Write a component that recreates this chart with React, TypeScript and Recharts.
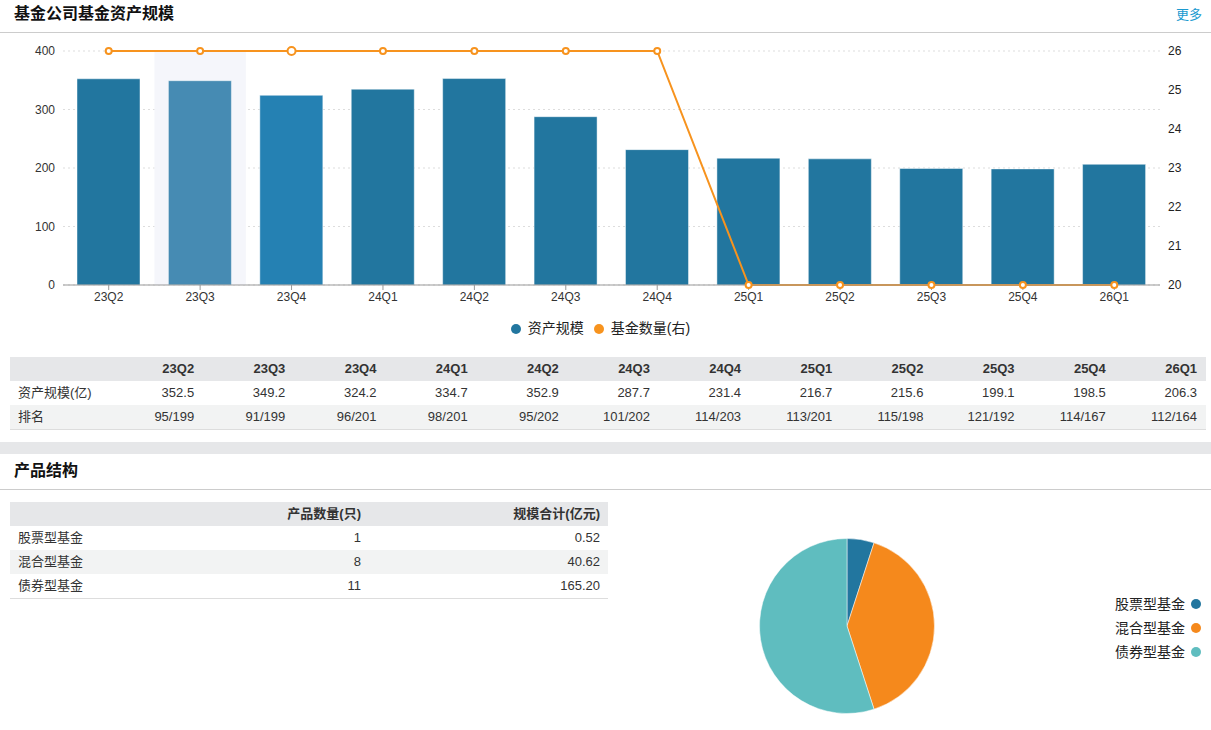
import React from "react";
import {
  ComposedChart,
  Bar,
  Line,
  XAxis,
  YAxis,
  CartesianGrid,
  Legend,
  ReferenceArea,
  Cell,
  PieChart,
  Pie,
} from "recharts";

const QUARTERS = ["23Q2", "23Q3", "23Q4", "24Q1", "24Q2", "24Q3", "24Q4", "25Q1", "25Q2", "25Q3", "25Q4", "26Q1"];
const ASSET_SCALE = [352.5, 349.2, 324.2, 334.7, 352.9, 287.7, 231.4, 216.7, 215.6, 199.1, 198.5, 206.3];
const FUND_COUNT = [26, 26, 26, 26, 26, 26, 26, 20, 20, 20, 20, 20];
const RANKS = ["95/199", "91/199", "96/201", "98/201", "95/202", "101/202", "114/203", "113/201", "115/198", "121/192", "114/167", "112/164"];
const LEFT_TICKS = [0, 100, 200, 300, 400];
const RIGHT_TICKS = [20, 21, 22, 23, 24, 25, 26];

const FUND_TYPES = ["股票型基金", "混合型基金", "债券型基金"];
const TYPE_COUNTS = [1, 8, 11];
const TYPE_SCALES = [0.52, 40.62, 165.2];

const BLUE = "#22769f";
const ORANGE = "#f7931e";
const PIE_COLORS = ["#22769f", "#f5891c", "#5fbdbf"];
const FONT = "Arial, 'Liberation Sans', 'Noto Sans CJK SC', sans-serif";

const chartData = QUARTERS.map((q, i) => ({ q, scale: ASSET_SCALE[i], count: FUND_COUNT[i] }));
const pieData = FUND_TYPES.map((name, i) => ({ name, value: TYPE_COUNTS[i] }));

// hovered bar and its neighbour look lighter in the screenshot
const barFill = (i: number) => (i === 1 ? "#468bb3" : i === 2 ? "#2581b3" : BLUE);

const LineDot = (props: any) => {
  const { cx, cy, index } = props;
  return (
    <circle
      key={`dot-${index}`}
      cx={cx}
      cy={cy}
      r={index === 2 ? 4 : 3}
      fill="#fff"
      stroke={ORANGE}
      strokeWidth={2}
    />
  );
};

const PieLegend = () => (
  <div style={{ textAlign: "right", fontSize: 14, color: "#222", fontFamily: FONT }}>
    {FUND_TYPES.map((name, i) => (
      <div key={name} style={{ height: 24, lineHeight: "24px", whiteSpace: "nowrap" }}>
        {name}
        <span
          style={{
            display: "inline-block",
            width: 10,
            height: 10,
            borderRadius: 5,
            background: PIE_COLORS[i],
            marginLeft: 6,
          }}
        />
      </div>
    ))}
  </div>
);

const th: React.CSSProperties = { textAlign: "right", padding: "0 9px", fontWeight: "bold", height: 24, lineHeight: "24px" };
const td: React.CSSProperties = { textAlign: "right", padding: "0 9px", height: 24, lineHeight: "22px" };

export default function App() {
  return (
    <div
      style={{
        position: "absolute",
        left: 0,
        top: 0,
        width: 1211,
        height: 730,
        background: "#fff",
        fontFamily: FONT,
        color: "#333",
        overflow: "hidden",
      }}
    >
      <div style={{ position: "absolute", left: 14, top: 4, fontSize: 16, fontWeight: "bold", color: "#111", lineHeight: "20px" }}>
        基金公司基金资产规模
      </div>
      <div style={{ position: "absolute", right: 9, top: 6, fontSize: 13, color: "#1b9ad0", lineHeight: "18px" }}>更多</div>
      <div style={{ position: "absolute", left: 0, top: 32, width: 1211, height: 1, background: "#ccc" }} />

      <div style={{ position: "absolute", left: 0, top: 33 }}>
        <ComposedChart width={1211} height={308} data={chartData} margin={{ top: 18, right: 0, bottom: 4, left: 0 }}>
          <CartesianGrid yAxisId="left" vertical={false} stroke="#ddd" strokeDasharray="2 3" />
          <ReferenceArea yAxisId="left" x1="23Q3" x2="23Q3" fill="#f5f6fb" fillOpacity={1} stroke="none" />
          <XAxis
            dataKey="q"
            tick={{ fontSize: 12, fill: "#333" }}
            axisLine={{ stroke: "#999" }}
            tickLine={{ stroke: "#999" }}
            tickSize={5}
            height={32}
          />
          <YAxis
            yAxisId="left"
            width={63}
            domain={[0, 400]}
            ticks={LEFT_TICKS}
            axisLine={false}
            tickLine={false}
            tick={{ fontSize: 12, fill: "#333" }}
          />
          <YAxis
            yAxisId="right"
            orientation="right"
            width={51}
            domain={[20, 26]}
            ticks={RIGHT_TICKS}
            axisLine={false}
            tickLine={false}
            tick={{ fontSize: 12, fill: "#222" }}
          />
          <Legend
            iconType="circle"
            iconSize={10}
            wrapperStyle={{ fontSize: 14 }}
            itemSorter={(item: any) => (item.dataKey === "scale" ? 0 : 1)}
            formatter={(value) => <span style={{ color: "#222", marginLeft: 3 }}>{value}</span>}
          />
          <Bar
            yAxisId="left"
            dataKey="scale"
            name="资产规模"
            fill={BLUE}
            barSize={63}
            stroke="rgba(255,255,255,0.45)"
            isAnimationActive={false}
          >
            {chartData.map((_, i) => (
              <Cell key={`cell-${i}`} fill={barFill(i)} />
            ))}
          </Bar>
          <Line
            yAxisId="right"
            dataKey="count"
            name="基金数量(右)"
            stroke={ORANGE}
            strokeWidth={2}
            dot={LineDot}
            activeDot={false}
            isAnimationActive={false}
          />
        </ComposedChart>
      </div>

      {/* quarterly table */}
      <table
        style={{
          position: "absolute",
          left: 10,
          top: 357,
          width: 1196,
          borderCollapse: "collapse",
          tableLayout: "fixed",
          fontSize: 13,
          color: "#333",
        }}
      >
        <colgroup>
          <col style={{ width: 102 }} />
          {QUARTERS.map((q) => (
            <col key={q} />
          ))}
        </colgroup>
        <thead>
          <tr style={{ background: "#e6e7e9" }}>
            <th style={th}></th>
            {QUARTERS.map((q) => (
              <th key={q} style={th}>
                {q}
              </th>
            ))}
          </tr>
        </thead>
        <tbody>
          <tr>
            <td style={{ ...td, textAlign: "left", padding: "0 8px", whiteSpace: "nowrap" }}>资产规模(亿)</td>
            {ASSET_SCALE.map((v, i) => (
              <td key={i} style={td}>
                {v.toFixed(1)}
              </td>
            ))}
          </tr>
          <tr style={{ background: "#f2f3f3", borderBottom: "1px solid #ddd" }}>
            <td style={{ ...td, textAlign: "left", padding: "0 8px" }}>排名</td>
            {RANKS.map((r, i) => (
              <td key={i} style={td}>
                {r}
              </td>
            ))}
          </tr>
        </tbody>
      </table>

      <div style={{ position: "absolute", left: 0, top: 442, width: 1211, height: 12, background: "#e6e7e9" }} />
      <div style={{ position: "absolute", left: 14, top: 461, fontSize: 16, fontWeight: "bold", color: "#111", lineHeight: "20px" }}>
        产品结构
      </div>
      <div style={{ position: "absolute", left: 0, top: 489, width: 1211, height: 1, background: "#ccc" }} />

      {/* product table */}
      <table
        style={{
          position: "absolute",
          left: 10,
          top: 502,
          width: 598,
          borderCollapse: "collapse",
          tableLayout: "fixed",
          fontSize: 13,
          color: "#333",
        }}
      >
        <colgroup>
          <col style={{ width: 120 }} />
          <col style={{ width: 239 }} />
          <col style={{ width: 239 }} />
        </colgroup>
        <thead>
          <tr style={{ background: "#e6e7e9" }}>
            <th style={th}></th>
            <th style={{ ...th, padding: "0 8px" }}>产品数量(只)</th>
            <th style={{ ...th, padding: "0 8px" }}>规模合计(亿元)</th>
          </tr>
        </thead>
        <tbody>
          {FUND_TYPES.map((name, i) => (
            <tr
              key={name}
              style={{
                background: i === 1 ? "#f2f3f3" : "#fff",
                borderBottom: i === FUND_TYPES.length - 1 ? "1px solid #ddd" : undefined,
              }}
            >
              <td style={{ ...td, textAlign: "left", padding: "0 8px" }}>{name}</td>
              <td style={{ ...td, padding: "0 8px" }}>{TYPE_COUNTS[i]}</td>
              <td style={{ ...td, padding: "0 8px" }}>{TYPE_SCALES[i].toFixed(2)}</td>
            </tr>
          ))}
        </tbody>
      </table>

      <div style={{ position: "absolute", left: 610, top: 490 }}>
        <PieChart width={601} height={240} margin={{ top: 0, right: 0, bottom: 0, left: 0 }}>
          <Pie
            data={pieData}
            dataKey="value"
            nameKey="name"
            cx={237}
            cy={136}
            outerRadius={87.5}
            startAngle={90}
            endAngle={-270}
            stroke="#fff"
            strokeWidth={0.5}
            isAnimationActive={false}
          >
            {pieData.map((_, i) => (
              <Cell key={`slice-${i}`} fill={PIE_COLORS[i]} />
            ))}
          </Pie>
          <Legend
            layout="vertical"
            align="right"
            verticalAlign="top"
            content={PieLegend}
            wrapperStyle={{ top: 102, right: 10, left: "auto", width: "auto" }}
          />
        </PieChart>
      </div>
    </div>
  );
}
